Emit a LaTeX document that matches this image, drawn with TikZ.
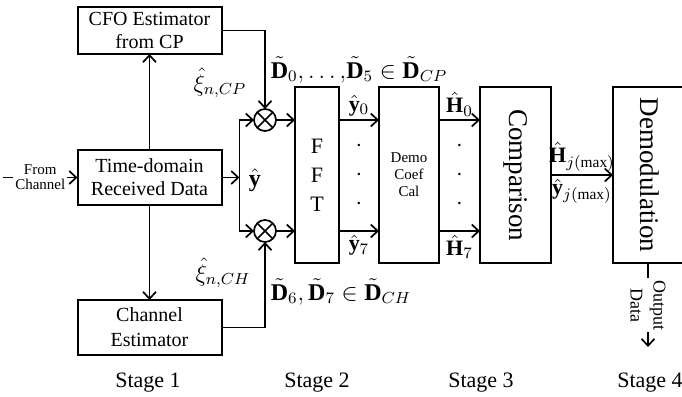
\documentclass[tikz,border=0pt]{standalone}
\usepackage{amsmath}
\usepackage{amssymb}
\usepackage{fontspec}
\setmainfont{Liberation Serif}
\setmathrm{Liberation Serif}
\usetikzlibrary{arrows.meta, positioning, calc}

\begin{document}
\begin{tikzpicture}[
    x=0.5pt, y=-0.5pt,
    >={Straight Barb[length=3.5pt, width=6.5pt]},
    line width=0.85pt,
    % Estilos de cajas
    blockbox/.style={rectangle, draw, line width=1pt, outer sep=0pt, align=center, inner sep=0pt, minimum width=72pt, font=\fontsize{10}{11.5}\selectfont},
    stagebox/.style={rectangle, draw, line width=1pt, outer sep=0pt, align=center, inner sep=0pt, minimum height=88pt},
    mulnode/.style={circle, draw, outer sep=0pt, inner sep=0pt, minimum size=11pt},
    mathlbl/.style={font=\fontsize{12}{14}\selectfont, inner sep=1pt},
    arrowlbl/.style={font=\fontsize{11}{13}\selectfont, inner sep=1.5pt},
    smalllbl/.style={fill=white, align=center, inner sep=1pt, font=\fontsize{7.5}{7.5}\selectfont},
    stagelbl/.style={font=\fontsize{11}{13}\selectfont}
]
\useasboundingbox (0,0) rectangle (682,397);
\clip (0,0) rectangle (682,397);

% -------------------------
% STAGE 1 (Izquierda)
% -------------------------
\node[blockbox, minimum height=27.5pt] (tdata) at (149.5,177.5) {Time-domain\\Received Data};

\node[blockbox, minimum height=23.5pt, above=48pt of tdata] (cfo) {CFO Estimator\\from CP};

\node[blockbox, minimum height=27.5pt, below=47.5pt of tdata, font=\fontsize{10}{12.5}\selectfont] (chest) {Channel\\Estimator};

\coordinate (src) at (3,177.5);
\draw[->] (src) -- (tdata) node[midway, smalllbl] {From\\Channel};

\draw[->] (tdata) -- (cfo);
\draw[->] (tdata) -- (chest);

% -------------------------
% MULTIPLICADORES
% -------------------------
\node[mulnode] (mulA) at (265,120) {};
\node[mulnode] (mulB) at (265,231) {};
\draw (mulA.north west) -- (mulA.south east) (mulA.north east) -- (mulA.south west);
\draw (mulB.north west) -- (mulB.south east) (mulB.north east) -- (mulB.south west);

\coordinate[right=9pt of tdata.east] (bus);
\draw[->] (tdata) -- (bus);
\draw[->] (bus) |- (mulA);
\draw[->] (bus) |- (mulB);
\node[mathlbl] (yhat) at (255,180) {$\hat{\mathbf{y}}$};

\draw[->] (cfo.east) -| (mulA);
\draw[->] (chest.east) -| (mulB);

\node[mathlbl] (xicp) at (220,83) {$\hat{\xi}_{n,CP}$};
\node[mathlbl] (xich) at (223,273) {$\hat{\xi}_{n,CH}$};
\node[mathlbl, anchor=west] (dcp) at (268,70) {$\tilde{\mathbf{D}}_0{,}\ldots{,}\tilde{\mathbf{D}}_5\in\tilde{\mathbf{D}}_{CP}$};
\node[mathlbl, anchor=west] (dch) at (268,292) {$\tilde{\mathbf{D}}_6{,}\,\tilde{\mathbf{D}}_7\in\tilde{\mathbf{D}}_{CH}$};

% -------------------------
% STAGES 2-4 (Derecha)
% -------------------------
\node[stagebox, minimum width=22pt, font=\fontsize{11}{14.5}\selectfont] (fft) at (317,175) {F\\F\\T};
\node[stagebox, minimum width=30pt, right=20pt of fft, font=\fontsize{7.5}{8.5}\selectfont] (dcc) {Demo\\Coef\\Cal};
\node[stagebox, minimum width=35.5pt, right=20.5pt of dcc, font=\fontsize{13.5}{15}\selectfont] (comp) {\rotatebox{-90}{Comparison}};
\node[stagebox, minimum width=37pt, right=31pt of comp, font=\fontsize{13.5}{15}\selectfont] (demod) {\rotatebox{-90}{Demodulation}};

\draw[->] (mulA) -- (mulA -| fft.west);
\draw[->] (mulB) -- (mulB -| fft.west);

\draw[->] (fft.east |- mulA) -- (dcc.west |- mulA) node[midway, above, arrowlbl] {$\hat{\mathbf{y}}_0$};
\draw[->] (fft.east |- mulB) -- (dcc.west |- mulB) node[midway, below, arrowlbl] {$\hat{\mathbf{y}}_7$};
\draw[->] (dcc.east |- mulA) -- (comp.west |- mulA) node[midway, above, arrowlbl] {$\hat{\mathbf{H}}_0$};
\draw[->] (dcc.east |- mulB) -- (comp.west |- mulB) node[midway, below, arrowlbl] {$\hat{\mathbf{H}}_7$};

\node[align=center, font=\fontsize{12}{14.5}\selectfont] (ydots) at ($(fft.east)!0.5!(dcc.west)$) {$\cdot$\\$\cdot$\\$\cdot$};
\node[align=center, font=\fontsize{12}{14.5}\selectfont] (hdots) at ($(dcc.east)!0.5!(comp.west)$) {$\cdot$\\$\cdot$\\$\cdot$};

\draw[->] (comp) -- (demod)
    node[midway, above, arrowlbl] {$\hat{\mathbf{H}}_{j(\max)}$}
    node[midway, below, arrowlbl] {$\hat{\mathbf{y}}_{j(\max)}$};

\coordinate (sink) at (648,347);
\draw[->] (demod.south -| sink) -- (sink) node[midway, smalllbl, rotate=-90, font=\fontsize{9}{11.5}\selectfont] {Output\\Data};

% -------------------------
% ETAPAS
% -------------------------
\node[stagelbl] (stage1) at (148,383) {Stage 1};
\node[stagelbl] (stage2) at (317,383) {Stage 2};
\node[stagelbl] (stage3) at (481,383) {Stage 3};
\node[stagelbl] (stage4) at (650,383) {Stage 4};

\end{tikzpicture}
\end{document}
